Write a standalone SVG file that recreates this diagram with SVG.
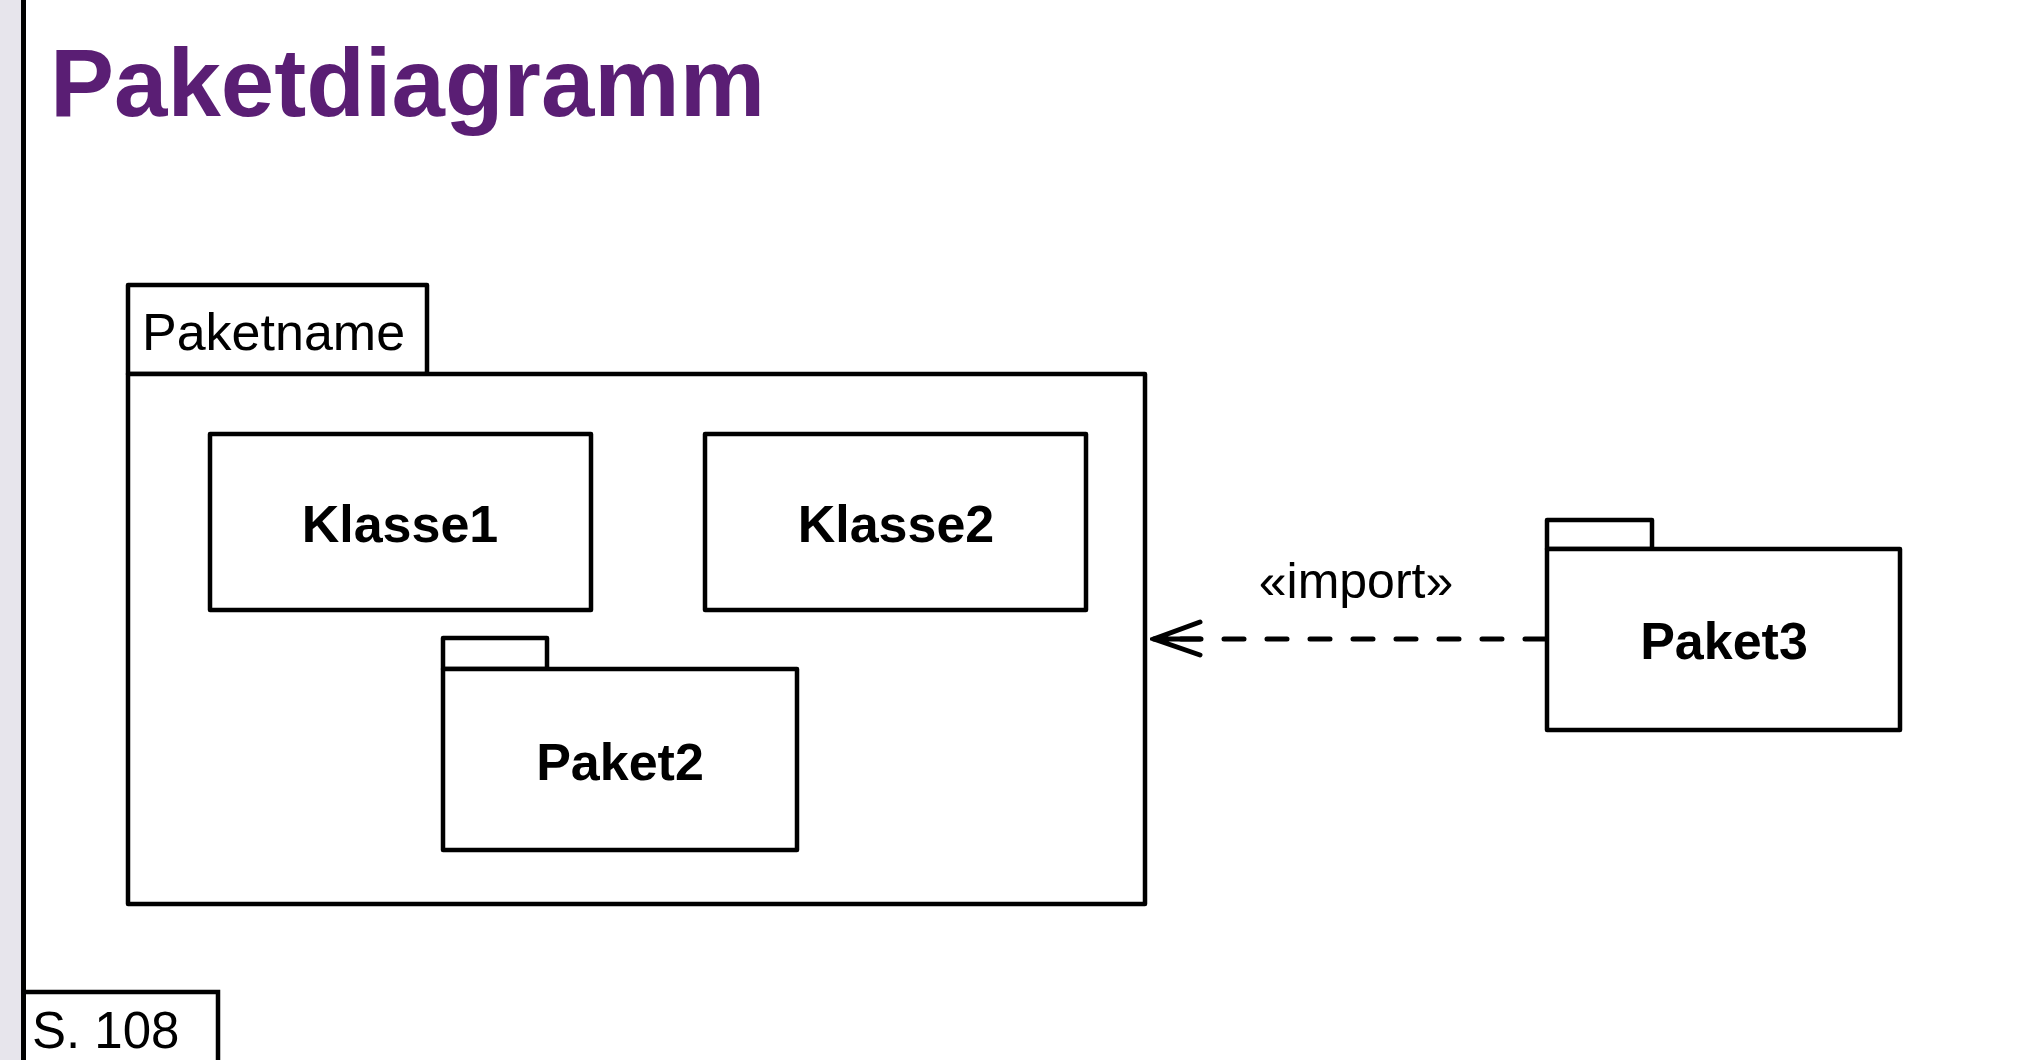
<svg xmlns="http://www.w3.org/2000/svg" width="2042" height="1060" viewBox="0 0 2042 1060">
<style>
.box{fill:#ffffff;stroke:#000000;stroke-width:4.5;stroke-linejoin:round}
.bold{font-family:"Liberation Sans",Arial,sans-serif;font-weight:bold;fill:#000000}
.reg{font-family:"Liberation Sans",Arial,sans-serif;fill:#000000}
.dash{fill:none;stroke:#000000;stroke-width:5;stroke-dasharray:20 23;stroke-linecap:round}
</style>
<defs>
<marker id="openArrow" markerUnits="userSpaceOnUse" markerWidth="54" markerHeight="42" viewBox="-4 -4 54 42" refX="46" refY="16" orient="auto">
<path d="M0 0 L46 16 L0 33 M0 16 L46 16" fill="none" stroke="#000000" stroke-width="5" stroke-linecap="round" stroke-linejoin="miter"/>
</marker>
</defs>
<rect x="0" y="0" width="2042" height="1060" fill="#ffffff"/>
<rect x="0" y="0" width="21" height="1060" fill="#e7e5ec"/>
<line x1="23.5" y1="0" x2="23.5" y2="1060" stroke="#000000" stroke-width="5"/>
<text x="50" y="116" font-family="Liberation Sans, Arial, sans-serif" font-weight="bold" font-size="96" fill="#5a1e74">Paketdiagramm</text>

<g id="paketname">
<rect class="box" x="128" y="285" width="299" height="89"/>
<rect class="box" x="128" y="374" width="1017" height="530"/>
<text class="reg" x="142" y="350" font-size="52">Paketname</text>
</g>

<g id="klasse1">
<rect class="box" x="210" y="434" width="381" height="176"/>
<text class="bold" x="400" y="542" font-size="52" text-anchor="middle">Klasse1</text>
</g>

<g id="klasse2">
<rect class="box" x="705" y="434" width="381" height="176"/>
<text class="bold" x="896" y="542" font-size="52" text-anchor="middle">Klasse2</text>
</g>

<g id="paket2">
<rect class="box" x="443" y="638" width="104" height="31"/>
<rect class="box" x="443" y="669" width="354" height="181"/>
<text class="bold" x="620" y="780" font-size="52" text-anchor="middle">Paket2</text>
</g>

<g id="paket3">
<rect class="box" x="1547" y="520" width="105" height="29"/>
<rect class="box" x="1547" y="549" width="353" height="181"/>
<text class="bold" x="1724" y="659" font-size="52" text-anchor="middle">Paket3</text>
</g>

<g id="connectors">
<path class="dash" d="M1545 639 L1154 639" marker-end="url(#openArrow)"/>
<text class="reg" x="1356" y="598" font-size="50" text-anchor="middle">«import»</text>
</g>

<g id="page-ref">
<path d="M23.5 992 L218 992 L218 1062" fill="#ffffff" stroke="#000000" stroke-width="4.5"/>
<text class="reg" x="32" y="1048" font-size="51">S. 108</text>
</g>
</svg>
